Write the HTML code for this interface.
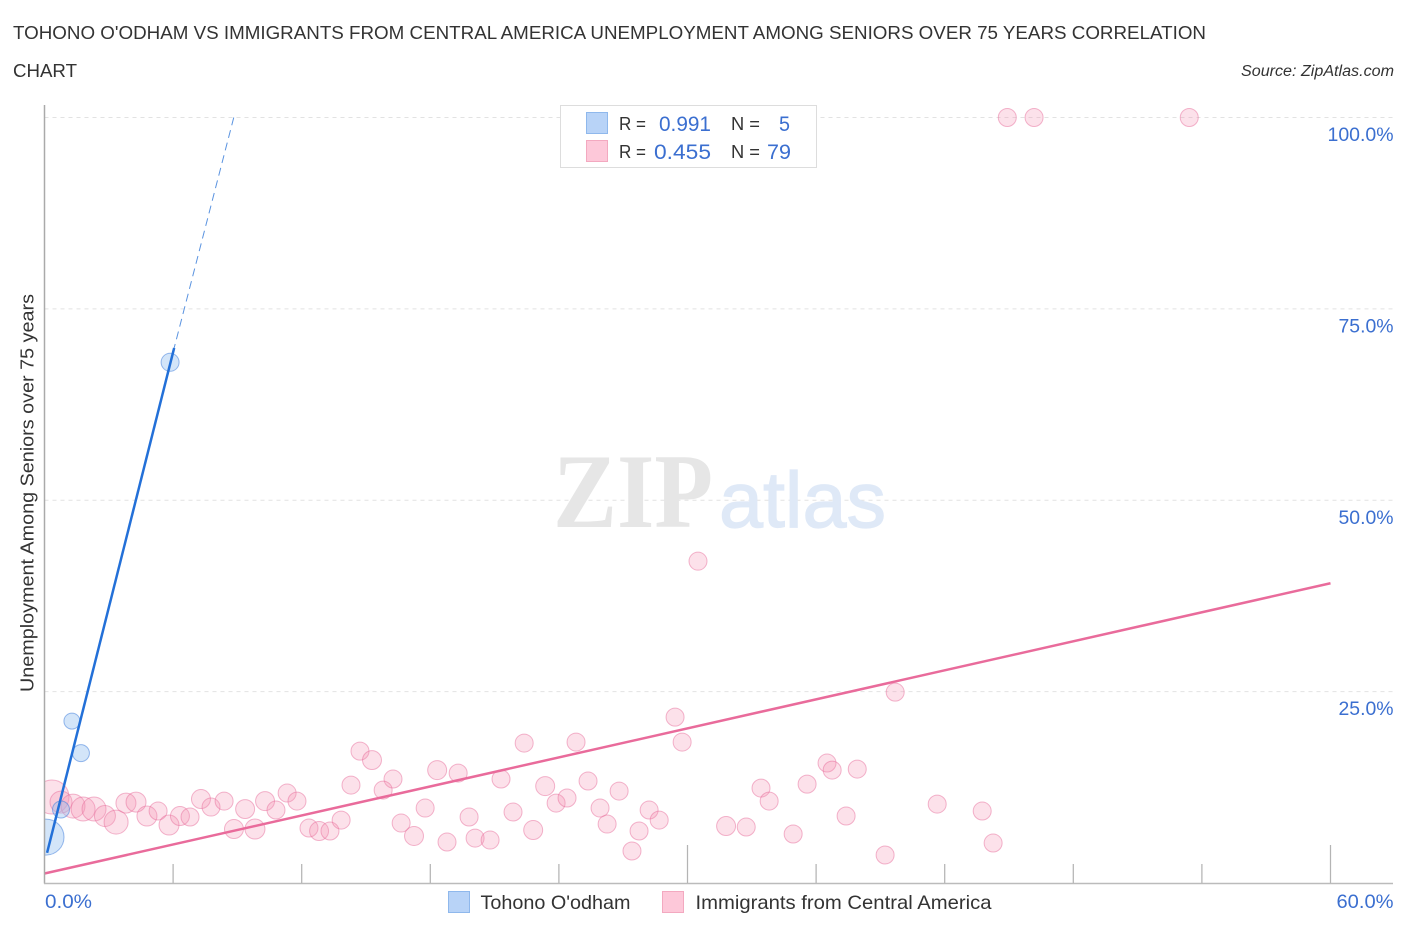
<!DOCTYPE html>
<html lang="en">
<head>
<meta charset="utf-8">
<title>Tohono O'odham vs Immigrants from Central America Unemployment Among Seniors over 75 Years Correlation Chart</title>
<style>
  html, body { margin: 0; padding: 0; background: #fff; }
  svg { display: block; font-family: "Liberation Sans", sans-serif; }
</style>
</head>
<body>
<svg id="chart" xmlns="http://www.w3.org/2000/svg" width="1406" height="930" viewBox="0 0 1406 930">
  <rect x="0" y="0" width="1406" height="930" fill="#ffffff"/>
  <defs>
    <clipPath id="plot-clip"><rect x="44.5" y="100" width="1350" height="783"/></clipPath>
  </defs>

  <text x="13" y="39" font-size="18.5" fill="#333" textLength="1193" lengthAdjust="spacingAndGlyphs">TOHONO O'ODHAM VS IMMIGRANTS FROM CENTRAL AMERICA UNEMPLOYMENT AMONG SENIORS OVER 75 YEARS CORRELATION</text>
  <text x="13" y="77" font-size="18.5" fill="#333" textLength="64" lengthAdjust="spacingAndGlyphs">CHART</text>
  <text x="1241" y="76" font-size="15.5" font-style="italic" fill="#333" textLength="153" lengthAdjust="spacingAndGlyphs">Source: ZipAtlas.com</text>

  <g id="grid-layer"></g>

  <text x="553" y="527" font-family="'Liberation Serif', serif" font-size="106" font-weight="bold" fill="#e6e6e6" textLength="160" lengthAdjust="spacingAndGlyphs">ZIP</text>
  <text x="719" y="527" font-size="79" fill="#dfe9f7" stroke="#dfe9f7" stroke-width="1.2" textLength="167" lengthAdjust="spacingAndGlyphs">atlas</text>

  <g id="points-layer" clip-path="url(#plot-clip)"></g>
  <g id="trend-layer"></g>
  <g id="axis-layer"></g>

  <text transform="translate(33.5 493) rotate(-90)" text-anchor="middle" font-size="18" fill="#333" textLength="398" lengthAdjust="spacingAndGlyphs">Unemployment Among Seniors over 75 years</text>

  <g>
    <rect x="560.5" y="105.5" width="256" height="62" fill="#ffffff" stroke="#dddddd" stroke-width="1"/>
    <rect x="586.5" y="112.5" width="21" height="21" fill="#b8d3f7" stroke="#8fb8ec" stroke-width="1"/>
    <rect x="586.5" y="140.5" width="21" height="21" fill="#fdc8d9" stroke="#f3a9c0" stroke-width="1"/>
    <text x="619" y="130" font-size="18.5" fill="#333" textLength="27" lengthAdjust="spacingAndGlyphs">R =</text>
    <text x="659" y="131" font-size="21.5" fill="#3b6fd0" textLength="52" lengthAdjust="spacingAndGlyphs">0.991</text>
    <text x="731" y="130" font-size="18.5" fill="#333" textLength="29" lengthAdjust="spacingAndGlyphs">N =</text>
    <text x="779" y="131" font-size="21.5" fill="#3b6fd0" textLength="11" lengthAdjust="spacingAndGlyphs">5</text>
    <text x="619" y="158" font-size="18.5" fill="#333" textLength="27" lengthAdjust="spacingAndGlyphs">R =</text>
    <text x="654" y="159" font-size="21.5" fill="#3b6fd0" textLength="57" lengthAdjust="spacingAndGlyphs">0.455</text>
    <text x="731" y="158" font-size="18.5" fill="#333" textLength="29" lengthAdjust="spacingAndGlyphs">N =</text>
    <text x="767" y="159" font-size="21.5" fill="#3b6fd0" textLength="24" lengthAdjust="spacingAndGlyphs">79</text>
  </g>

  <g>
    <rect x="448.5" y="891.5" width="21" height="21" fill="#b8d3f7" stroke="#8fb8ec" stroke-width="1"/>
    <text x="480.5" y="909" font-size="19.5" fill="#333" textLength="150" lengthAdjust="spacingAndGlyphs">Tohono O'odham</text>
    <rect x="662.5" y="891.5" width="21" height="21" fill="#fdc8d9" stroke="#f3a9c0" stroke-width="1"/>
    <text x="695.5" y="909" font-size="19.5" fill="#333" textLength="296" lengthAdjust="spacingAndGlyphs">Immigrants from Central America</text>
  </g>
</svg>

<script>
// Data (x: percent share, y: unemployment percent, area: bubble weight)
const tohonoX = [0.07, 0.77, 1.28, 1.70, 5.86];
const tohonoY = [6.0, 9.6, 21.15, 16.97, 68.02];
const tohonoArea = [324, 72, 64, 72, 81];

const immigrantX = [0.35, 0.77, 1.33, 1.80, 2.31, 2.82, 3.34, 3.80, 4.27, 4.78,
  5.30, 5.81, 6.32, 6.79, 7.30, 7.77, 8.38, 9.36, 8.84, 9.82,
  10.29, 10.80, 11.32, 11.78, 12.34, 12.81, 13.32, 13.84, 14.30,
  14.72, 15.28, 16.26, 15.80, 16.64, 17.24, 17.76, 18.32, 19.30, 18.78,
  19.81, 20.09, 20.79, 21.30, 21.86, 22.38, 22.80, 23.36, 23.87, 24.38,
  24.80, 25.36, 25.92, 26.25, 26.81, 27.41, 27.74, 28.21, 28.68, 29.42,
  29.75, 39.69, 31.80, 32.74, 33.43, 33.81, 34.93, 35.58, 36.51, 36.75,
  37.92, 37.40, 39.22, 41.65, 43.75, 44.26, 44.92, 46.17, 53.41, 30.49];
const immigrantY = [11.23, 10.57, 10.05, 9.66, 9.66, 8.75, 7.96, 10.44, 10.57, 8.75,
  9.40, 7.57, 8.75, 8.62, 10.97, 9.92, 10.70, 9.66, 7.05, 7.05,
  10.70, 9.53, 11.75, 10.70, 7.18, 6.79, 6.79, 8.22, 12.79,
  17.23, 16.06, 13.58, 12.14, 7.83, 6.14, 9.79, 14.75, 14.36, 5.35,
  8.62, 5.87, 5.61, 13.58, 9.27, 18.28, 6.92, 12.66, 10.44, 11.10,
  18.41, 13.32, 9.79, 7.70, 12.01, 4.18, 6.79, 9.53, 8.22, 21.67,
  18.41, 24.93, 7.44, 7.31, 12.40, 10.70, 6.40, 12.92, 15.67, 14.75,
  14.88, 8.75, 3.66, 10.31, 9.40, 5.22, 100, 100, 100, 42.04];
const immigrantArea = [289, 121, 144, 144, 144, 110, 144, 100, 100, 100,
  81, 100, 90, 81, 90, 81, 81, 90, 90, 100,
  90, 81, 81, 81, 81, 90, 81, 81, 81,
  81, 90, 81, 81, 81, 90, 81, 90, 81, 81,
  81, 81, 81, 81, 81, 81, 90, 90, 81, 81,
  81, 81, 81, 81, 81, 81, 81, 81, 81, 81,
  81, 81, 90, 81, 81, 81, 81, 81, 81, 81,
  81, 81, 81, 81, 81, 81, 81, 81, 81, 81];

const tohonoTrendSolidX = [0.12, 6.05];
const tohonoTrendSolidY = [3.95, 69.9];
const tohonoTrendDashX = [6.05, 8.83];
const tohonoTrendDashY = [69.9, 100];
const immigrantTrendX = [0, 60];
const immigrantTrendY = [1.24, 39.16];

const xTickValues = [0, 6, 12, 18, 24, 30, 36, 42, 48, 54, 60];
const xTickMajor = [false, false, false, false, false, true, false, false, false, false, true];
const xEdgeLabels = ['0.0%', '60.0%'];
const yTickValues = [100, 75, 50, 25];
const yTickLabels = ['100.0%', '75.0%', '50.0%', '25.0%'];

// Axis functions
const sx = v => 44.5 + v * (1330.5 - 44.5) / 60;
const sy = v => 883 - v * (883 - 117.5) / 100;
const sr = a => Math.sqrt(a);

const NS = 'http://www.w3.org/2000/svg';
function make(tag, parent, attrs) {
  const el = document.createElementNS(NS, tag);
  for (const k in attrs) el.setAttribute(k, attrs[k]);
  parent.appendChild(el);
  return el;
}
const grid = document.getElementById('grid-layer');
const points = document.getElementById('points-layer');
const trends = document.getElementById('trend-layer');
const axes = document.getElementById('axis-layer');

yTickValues.forEach((v, i) => {
  const line = make('line', grid, { x1: 44.5, x2: 1393, y1: sy(v), y2: sy(v), stroke: '#e2e2e2', 'stroke-width': 1, 'stroke-dasharray': '4 4' });
  
  
  const label = make('text', axes, { x: 1393.5, y: sy(v) + 23.5, 'text-anchor': 'end', 'font-size': 19.5, fill: '#3b6fd0', textLength: yTickLabels[i].length * 11, lengthAdjust: 'spacingAndGlyphs' });
  label.textContent = yTickLabels[i];
  
  
});

const yAxis = make('line', axes, { x1: 44.5, x2: 44.5, y1: 105, y2: 883.5, stroke: '#aaaaaa', 'stroke-width': 1.5 });


const xAxis = make('line', axes, { x1: 44, x2: 1393, y1: 883.5, y2: 883.5, stroke: '#bbbbbb', 'stroke-width': 1.5 });



xTickValues.forEach((v, i) => {
  if (v === 0) return;
  const tick = make('line', axes, { x1: sx(v), x2: sx(v), y1: xTickMajor[i] ? 845 : 864, y2: 883, stroke: '#b4b4b4', 'stroke-width': 1.25 });
  
  
});

const xLabelStart = make('text', axes, { x: 45, y: 908, 'font-size': 19.5, fill: '#3b6fd0', textLength: 47, lengthAdjust: 'spacingAndGlyphs' });
xLabelStart.textContent = xEdgeLabels[0];


const xLabelEnd = make('text', axes, { x: 1393.5, y: 908, 'text-anchor': 'end', 'font-size': 19.5, fill: '#3b6fd0', textLength: 57, lengthAdjust: 'spacingAndGlyphs' });
xLabelEnd.textContent = xEdgeLabels[1];



immigrantX.forEach((v, i) => {
  const c = make('circle', points, { cx: sx(v), cy: sy(immigrantY[i]), r: sr(immigrantArea[i]), fill: 'rgba(244,143,177,0.27)', stroke: 'rgba(232,110,155,0.5)', 'stroke-width': 1 });
  
  
});
tohonoX.forEach((v, i) => {
  const c = make('circle', points, { cx: sx(v), cy: sy(tohonoY[i]), r: sr(tohonoArea[i]), fill: 'rgba(144,189,240,0.4)', stroke: 'rgba(70,130,220,0.55)', 'stroke-width': 1 });
  
  
});

const pinkTrend = make('line', trends, { x1: sx(immigrantTrendX[0]), y1: sy(immigrantTrendY[0]), x2: sx(immigrantTrendX[1]), y2: sy(immigrantTrendY[1]), stroke: '#e96b9b', 'stroke-width': 2.5 });


const blueDash = make('line', trends, { x1: sx(tohonoTrendDashX[1]), y1: sy(tohonoTrendDashY[1]), x2: sx(tohonoTrendDashX[0]), y2: sy(tohonoTrendDashY[0]), stroke: '#5a93e0', 'stroke-width': 1, 'stroke-dasharray': '8 5' });


const blueTrend = make('line', trends, { x1: sx(tohonoTrendSolidX[0]), y1: sy(tohonoTrendSolidY[0]), x2: sx(tohonoTrendSolidX[1]), y2: sy(tohonoTrendSolidY[1]), stroke: '#2370d8', 'stroke-width': 2.5 });


</script>
</body>
</html>
